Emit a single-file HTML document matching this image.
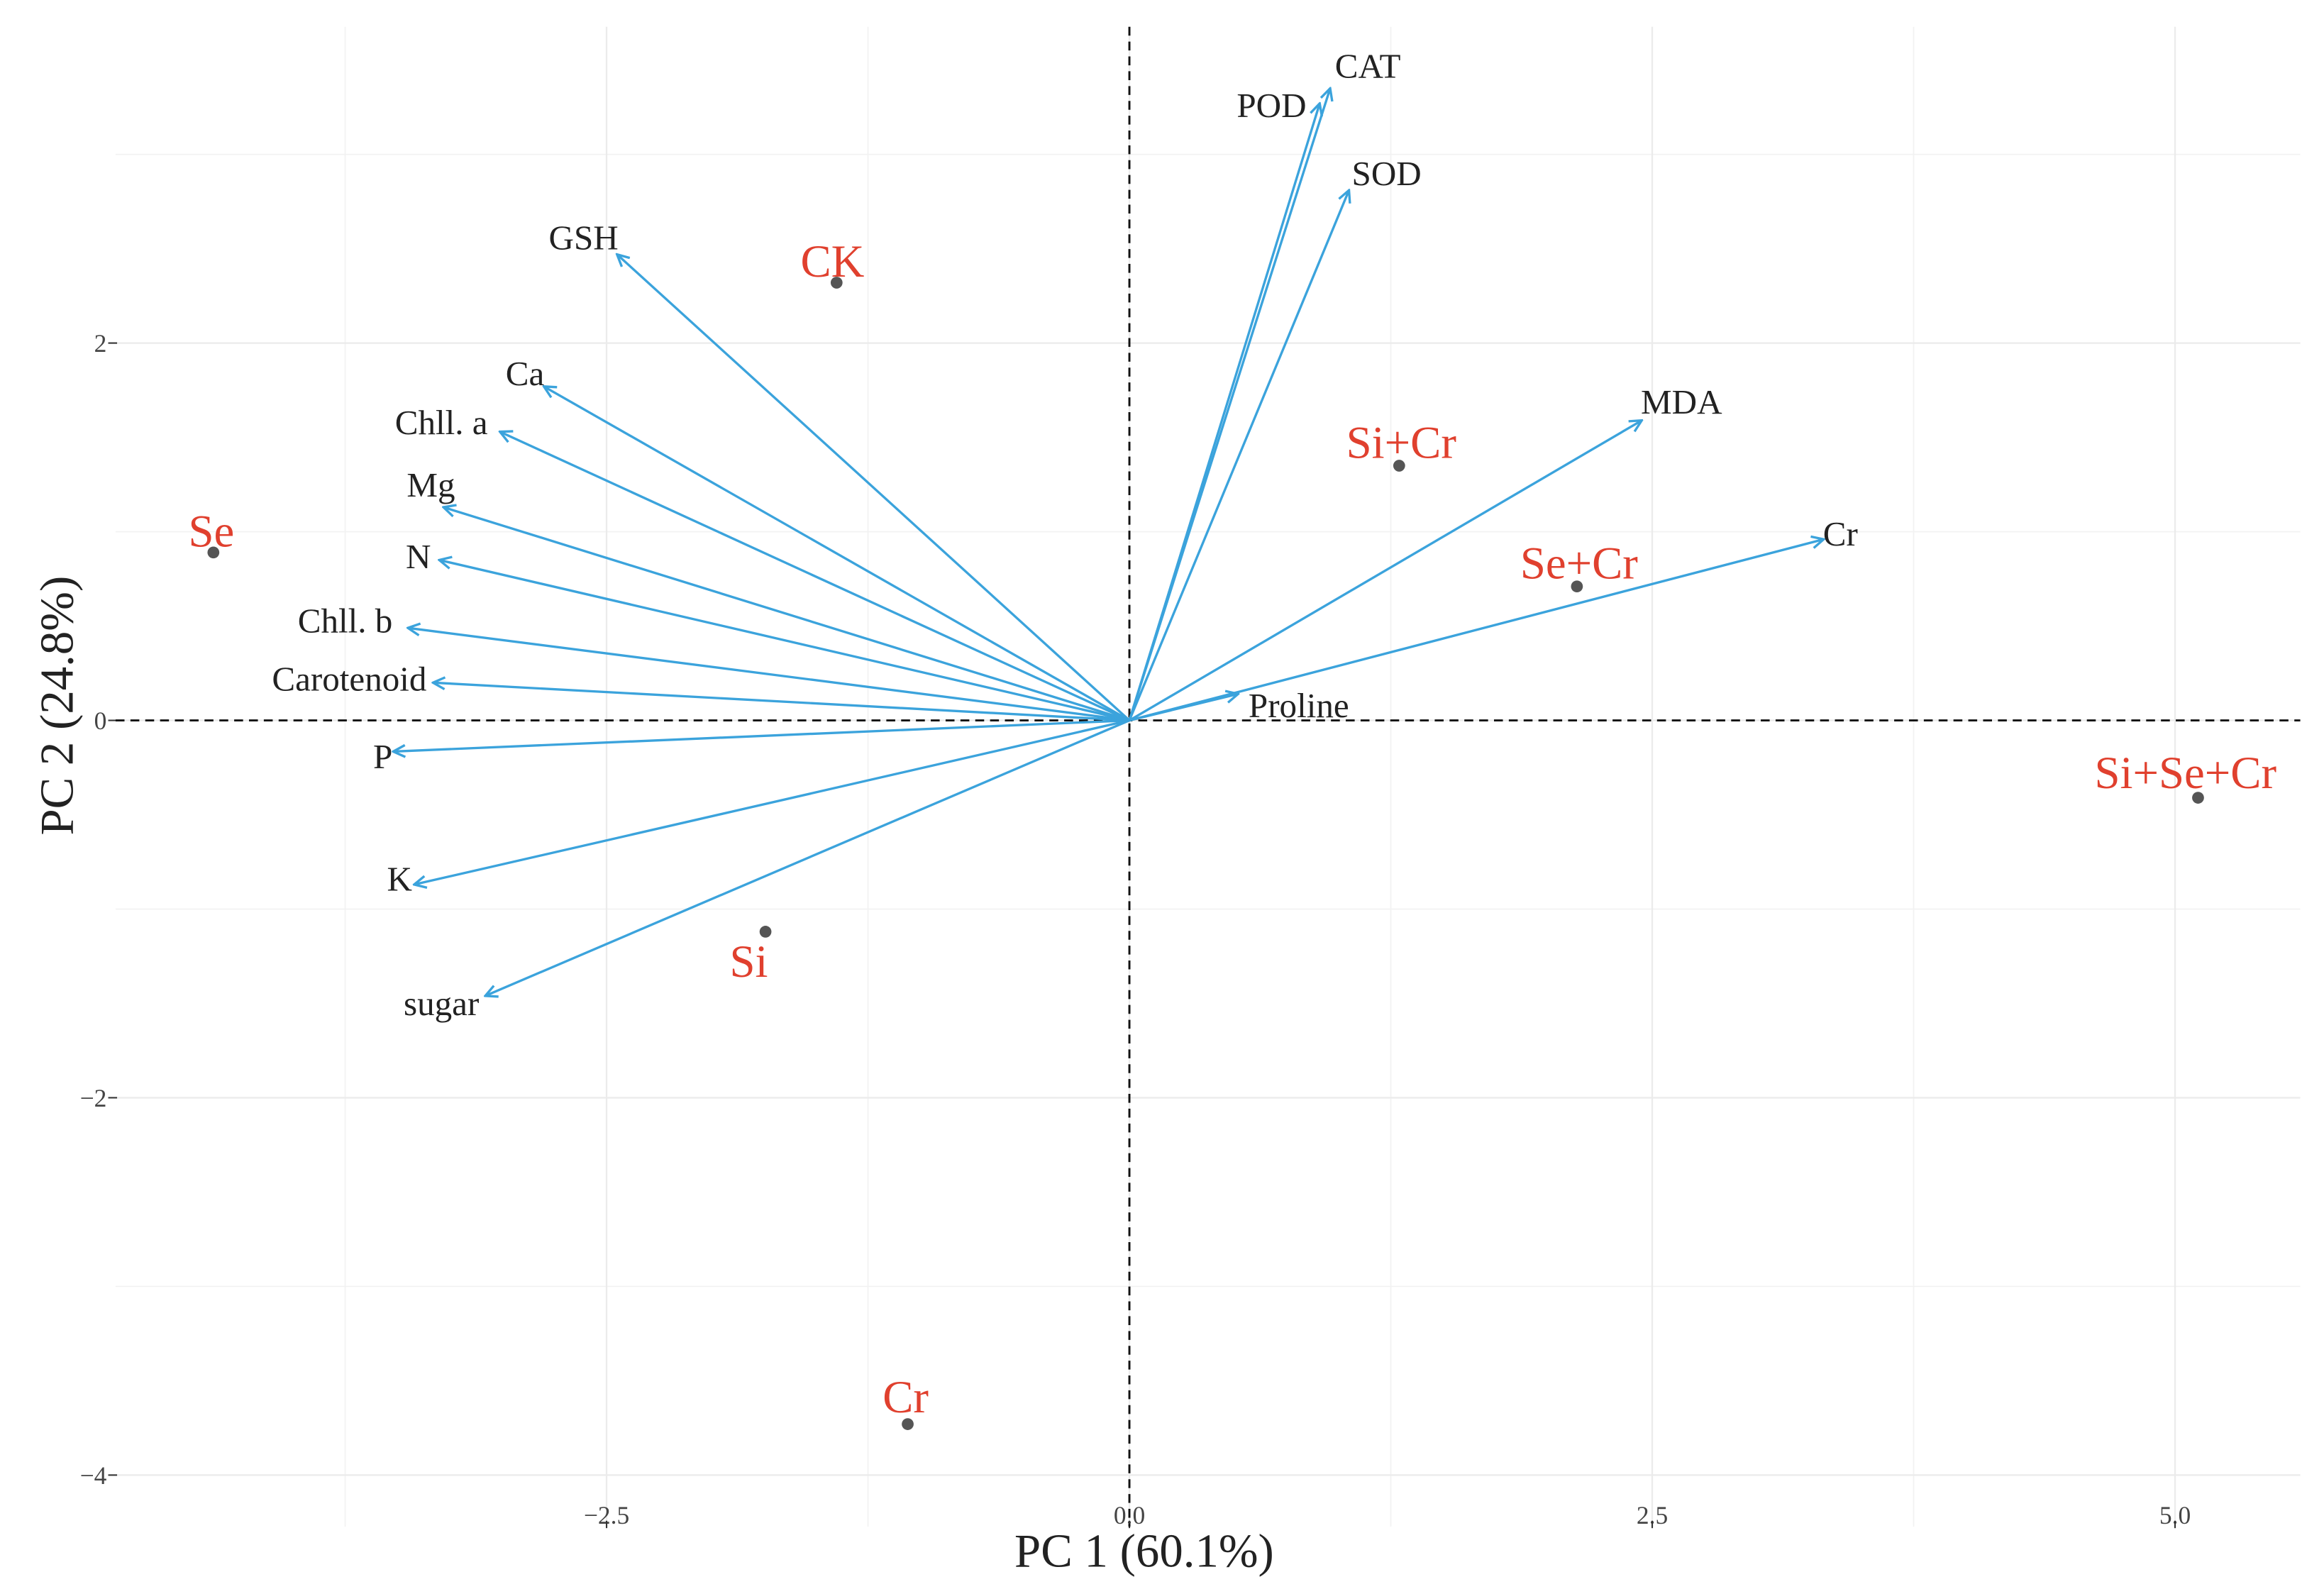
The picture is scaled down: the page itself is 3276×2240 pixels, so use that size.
<!DOCTYPE html>
<html><head><meta charset="utf-8">
<style>
html,body{margin:0;padding:0;background:#fff;}
svg{display:block;font-family:"Liberation Serif",serif;}
</style></head>
<body>
<svg id="chart" width="3276" height="2240" viewBox="0 0 1568 1072" xmlns="http://www.w3.org/2000/svg">
<defs>
<marker id="arr" markerWidth="10" markerHeight="10" refX="9" refY="5" orient="auto" markerUnits="userSpaceOnUse">
<path d="M1,1 L9,5 L1,9" fill="none" stroke="#3ba3dc" stroke-width="1.6"/>
</marker>
</defs>
<g id="grid"></g>
<g id="axes"></g>
<g id="arrows"></g>
<g id="points"></g>
<text x="772" y="1057" font-size="32" text-anchor="middle" fill="#222">PC 1 (60.1%)</text>
<text transform="translate(49,476) rotate(-90)" font-size="32" text-anchor="middle" fill="#222">PC 2 (24.8%)</text>
</svg>
<script>
const xTicks=[-2.5,0,2.5,5.0];
const xTickLabels=["-2.5","0.0","2.5","5.0"];
const yTicks=[-4,-2,0,2];
const yTickLabels=["-4","-2","0","2"];
const xMinor=[-3.75,-1.25,1.25,3.75];
const yMinor=[-3,-1,1,3];
const varNames=["CAT","POD","SOD","GSH","Ca","Chll. a","Mg","N","Chll. b","Carotenoid","P","K","sugar","MDA","Cr","Proline"];
const varX=[0.96,0.91,1.05,-2.45,-2.80,-3.01,-3.28,-3.30,-3.45,-3.33,-3.52,-3.42,-3.08,2.45,3.32,0.52];
const varY=[3.35,3.27,2.81,2.47,1.77,1.53,1.13,0.85,0.49,0.20,-0.165,-0.87,-1.46,1.59,0.96,0.14];
const varLabelX=[1.14,0.68,1.23,-2.61,-2.89,-3.29,-3.34,-3.40,-3.75,-3.73,-3.57,-3.49,-3.29,2.64,3.40,0.81];
const varLabelY=[3.47,3.26,2.90,2.56,1.84,1.58,1.25,0.87,0.53,0.22,-0.19,-0.84,-1.50,1.69,0.99,0.08];
const sampleNames=["CK","Se","Si+Cr","Se+Cr","Si+Se+Cr","Si","Cr"];
const sampleX=[-1.40,-4.38,1.29,2.14,5.11,-1.74,-1.06];
const sampleY=[2.32,0.89,1.35,0.71,-0.41,-1.12,-3.73];
const sampleLabelX=[-1.42,-4.39,1.30,2.15,5.05,-1.82,-1.07];
const sampleLabelY=[2.43,1.00,1.47,0.83,-0.28,-1.28,-3.59];

const X0=762,XS=141.1,Y0=486,YS=127.3;
const L=78,R=1552,T=18,B=1030;
const sx=v=>X0+v*XS, sy=v=>Y0-v*YS;
const NS="http://www.w3.org/2000/svg";
function mk(tag,attrs,parent){const e=document.createElementNS(NS,tag);for(const k in attrs)e.setAttribute(k,attrs[k]);parent.appendChild(e);return e;}
const grid=document.getElementById('grid'),axes=document.getElementById('axes'),arrows=document.getElementById('arrows'),pts=document.getElementById('points');

xMinor.forEach(v=>{const l=mk('line',{x1:sx(v),x2:sx(v),y1:T,y2:B,stroke:'#f2f2f2','stroke-width':0.8},grid);

});
yMinor.forEach(v=>{const l=mk('line',{x1:L,x2:R,y1:sy(v),y2:sy(v),stroke:'#f2f2f2','stroke-width':0.8},grid);

});
xTicks.forEach((v,i)=>{const l=mk('line',{x1:sx(v),x2:sx(v),y1:T,y2:B,stroke:'#ebebeb','stroke-width':1.1},grid);


const t=mk('text',{x:sx(v),y:1028,'font-size':17,'text-anchor':'middle',fill:'#444'},axes);t.textContent=xTickLabels[i].replace('-','\u2212');


mk('line',{x1:sx(v),x2:sx(v),y1:B-4,y2:B+1,stroke:'#333','stroke-width':1},axes);});
yTicks.forEach((v,i)=>{const l=mk('line',{x1:L,x2:R,y1:sy(v),y2:sy(v),stroke:'#ebebeb','stroke-width':1.1},grid);


const t=mk('text',{x:72,y:sy(v)+6,'font-size':17,'text-anchor':'end',fill:'#444'},axes);t.textContent=yTickLabels[i].replace('-','\u2212');


mk('line',{x1:73,x2:79,y1:sy(v),y2:sy(v),stroke:'#333','stroke-width':1},axes);});
const zx=mk('line',{x1:sx(0),x2:sx(0),y1:T,y2:B,stroke:'#111','stroke-width':1.4,'stroke-dasharray':'6,4'},axes);


const zy=mk('line',{x1:L,x2:R,y1:sy(0),y2:sy(0),stroke:'#111','stroke-width':1.4,'stroke-dasharray':'6,4'},axes);



varNames.forEach((n,i)=>{
const a=mk('line',{x1:sx(0),y1:sy(0),x2:sx(varX[i]),y2:sy(varY[i]),stroke:'#3ba3dc','stroke-width':1.6,'marker-end':'url(#arr)'},arrows);


const t=mk('text',{x:sx(varLabelX[i]),y:sy(varLabelY[i])+8,'font-size':23.5,'text-anchor':'middle',fill:'#222'},arrows);
t.textContent=n;


});
sampleNames.forEach((n,i)=>{
const c=mk('circle',{cx:sx(sampleX[i]),cy:sy(sampleY[i]),r:4,fill:'#555'},pts);


const t=mk('text',{x:sx(sampleLabelX[i]),y:sy(sampleLabelY[i])+10,'font-size':31,'text-anchor':'middle',fill:'#e0402e'},pts);
t.textContent=n;


});
</script>
</body></html>
